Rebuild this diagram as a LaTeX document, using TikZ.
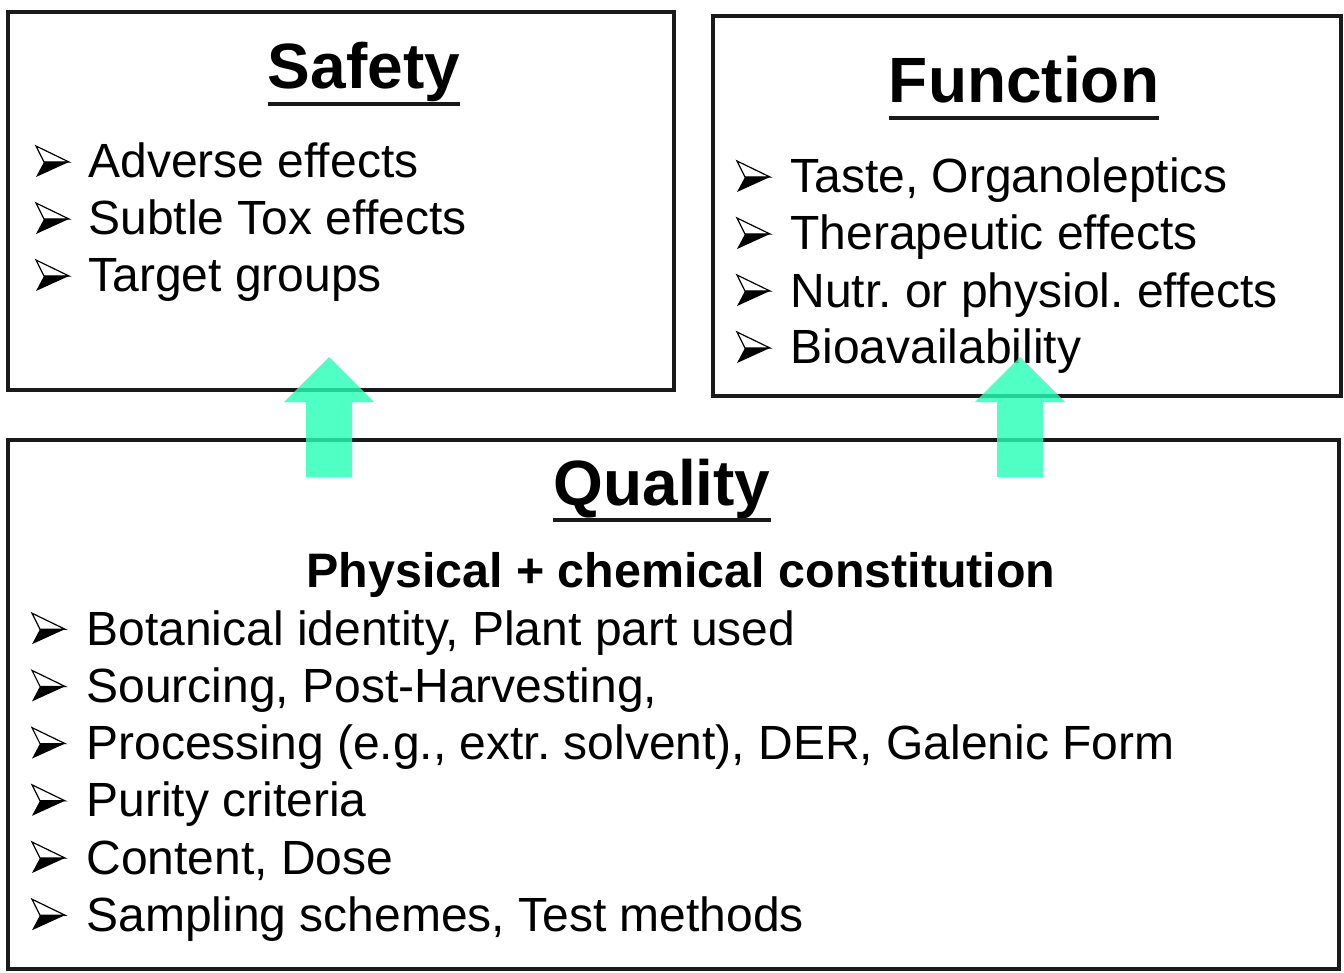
\documentclass[tikz,border=0pt]{standalone}
\usepackage{fontspec}
\setmainfont{Liberation Sans}
\usetikzlibrary{fit}
\frenchspacing

\definecolor{boxline}{RGB}{26,26,26}
\definecolor{arrowgreen}{RGB}{36,255,180}

\tikzset{
  box/.style={draw=boxline, line width=2pt, inner sep=0pt},
  title/.style={font=\fontsize{32}{38}\selectfont\bfseries, inner sep=0pt, anchor=base},
  item/.style={font=\fontsize{24}{28}\selectfont, inner sep=0pt, anchor=base west},
  ul/.style={draw=boxline, line width=2pt},
  uparrow/.style={fill=arrowgreen, fill opacity=0.8},
  pics/bullet/.style={code={
    \draw[line width=0.6pt, fill=white] (0,-16) -- (33,0) -- (8,0) -- cycle;
    \fill (8,0) -- (33,0) -- (0,15) -- cycle;
  }},
  pics/blockarrow/.style={code={
    \fill[uparrow] (-23,0) -- (-23,-75) -- (-45,-75) -- (0,-120) -- (45,-75) -- (23,-75) -- (23,0) -- cycle;
  }}
}

\begin{document}
\begin{tikzpicture}[x=0.5pt, y=-0.5pt]

  \useasboundingbox (0,0) rectangle (1344,973);

  %% boxes
  \node[box, fit={(8,12) (674,390)}] (safety) {};
  \node[box, fit={(713,16) (1341,396)}] (function) {};
  \node[box, fit={(8,440) (1339,969)}] (quality) {};

  %% titles
  \node[title] (tsafety) at (364,89) {Safety};
  \node[title] (tfunction) at (1024,103) {Function};
  \node[title] (tquality) at (662,505) {Quality};
  \foreach \t in {tsafety, tfunction, tquality}
    \draw[ul] ([yshift=-7.5pt]\t.base west) -- ([yshift=-7.5pt]\t.base east);

  %% Safety
  \foreach \txt [count=\i] in {Adverse effects, Subtle Tox effects, Target groups} {
    \node[item] (s\i) at (88, 121+57*\i) {\txt};
    \pic at (36, 105+57*\i) {bullet};
  }

  %% Function
  \foreach \txt [count=\i] in {{Taste, Organoleptics}, Therapeutic effects,
      Nutr. or physiol. effects, Bioavailability} {
    \node[item] (f\i) at (790, 136+57*\i) {\txt};
    \pic at (737, 120+57*\i) {bullet};
  }

  %% Quality
  \node[item, anchor=base, font=\fontsize{24.2}{28}\selectfont\bfseries] (sub) at (681,587)
    {Physical + chemical constitution};
  \foreach \txt [count=\i] in {{Botanical identity, Plant part used}, {Sourcing, Post-Harvesting,},
      {Processing (e.g., extr. solvent), DER, Galenic Form}, Purity criteria,
      {Content, Dose}, {Sampling schemes, Test methods}} {
    \node[item] (q\i) at (86, 588+57.2*\i) {\txt};
    \pic at (32, 572+57.2*\i) {bullet};
  }

  %% arrows up from Quality
  \coordinate (a1) at (329,477);
  \coordinate (a2) at (1020,477);
  \pic at (a1) {blockarrow};
  \pic at (a2) {blockarrow};

\end{tikzpicture}
\end{document}
